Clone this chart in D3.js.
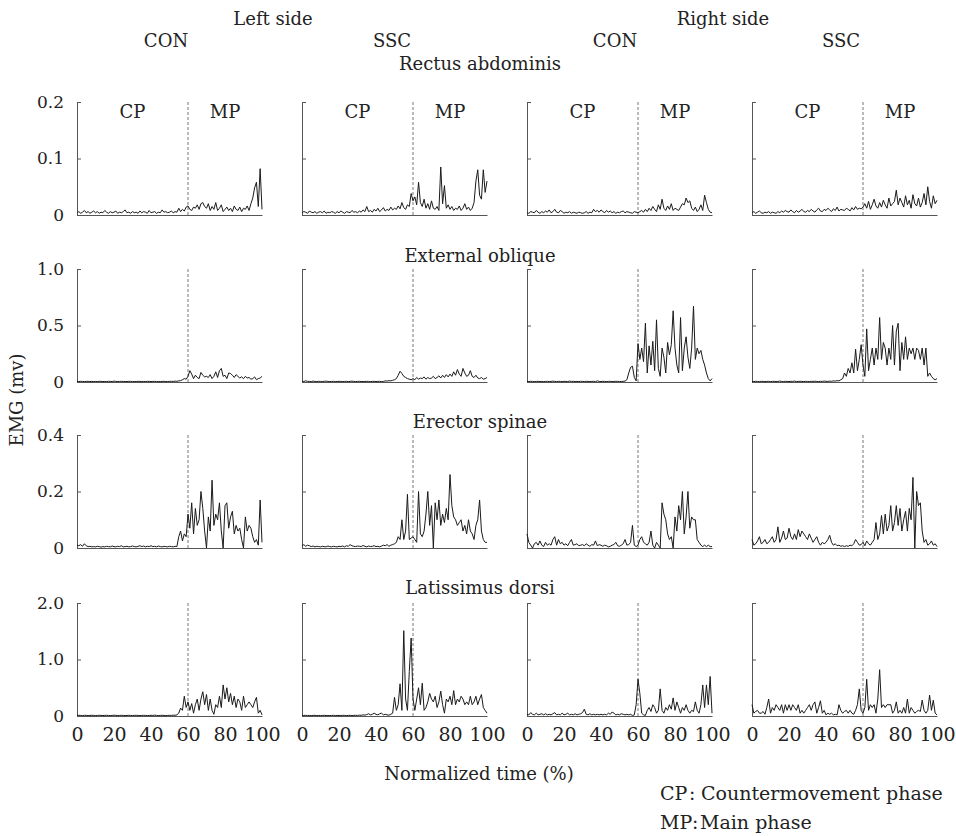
<!DOCTYPE html>
<html>
<head>
<meta charset="utf-8">
<title>EMG of trunk muscles, CON vs SSC</title>
<style>
  body { margin: 0; background: #fff; }
  text { font-family: "DejaVu Serif", serif; fill: #222; }
  .tick text { font-size: 17px; }
  .x_axis .tick text { font-size: 19px; }
  .title { font-size: 18px; text-anchor: middle; }
  .legend { font-size: 19px; }
  .trace { fill: none; stroke: #1a1a1a; stroke-width: 1; }
  .axis path, .axis line { stroke: #555; stroke-width: 1; }
  .phase_line { stroke: #777; stroke-width: 1; stroke-dasharray: 3,2; }
</style>
</head>
<body>
<script src="https://cdn.jsdelivr.net/npm/d3@7"></script>
<script>
// ---- data (normalized time 0..100 %, EMG in mV) ----
var muscles = ["Rectus abdominis", "External oblique", "Erector spinae", "Latissimus dorsi"];
var conditions = ["CON", "SSC", "CON", "SSC"];
var sides = ["Left side", "Right side"];
var yMax = [0.2, 1.0, 0.4, 2.0];
var yTicks = [[0, 0.1, 0.2], [0, 0.5, 1.0], [0, 0.2, 0.4], [0, 1.0, 2.0]];
var yTickLabels = [["0", "0.1", "0.2"], ["0", "0.5", "1.0"], ["0", "0.2", "0.4"], ["0", "1.0", "2.0"]];
var xTicks = [0, 20, 40, 60, 80, 100];
var phaseSplit = 60;
var times = d3.range(0, 101);

var rectusLeftCON = [
  .004,.006,.003,.005,.008,.004,.006,.003,.005,.007,
  .004,.006,.003,.005,.004,.008,.005,.003,.006,.004,
  .005,.007,.003,.005,.004,.006,.009,.004,.005,.003,
  .006,.004,.005,.003,.007,.004,.006,.005,.003,.008,
  .004,.005,.006,.003,.005,.004,.009,.005,.006,.004,
  .005,.007,.004,.006,.005,.012,.006,.010,.007,.014,
  .016,.010,.008,.014,.012,.018,.010,.020,.022,.015,
  .012,.020,.008,.015,.010,.022,.008,.012,.018,.006,
  .010,.014,.008,.012,.006,.016,.010,.008,.014,.006,
  .012,.010,.016,.008,.020,.030,.048,.058,.015,.082,.010];
var rectusLeftSSC = [
  .004,.006,.005,.003,.007,.005,.004,.006,.003,.005,
  .006,.004,.007,.003,.005,.004,.006,.005,.003,.006,
  .004,.007,.005,.003,.006,.005,.004,.008,.005,.006,
  .004,.007,.005,.009,.006,.015,.006,.008,.005,.010,
  .007,.012,.006,.009,.013,.007,.010,.008,.014,.009,
  .012,.010,.016,.011,.022,.013,.010,.018,.015,.038,
  .025,.032,.018,.058,.022,.015,.028,.012,.020,.010,
  .025,.012,.010,.015,.008,.085,.020,.052,.012,.018,
  .010,.015,.008,.012,.010,.016,.008,.012,.020,.010,
  .014,.008,.012,.022,.060,.080,.035,.028,.080,.040,.060];
var rectusRightCON = [
  .004,.003,.006,.005,.004,.008,.005,.003,.006,.004,
  .007,.005,.009,.004,.006,.010,.005,.004,.008,.006,
  .003,.005,.004,.006,.003,.005,.004,.003,.005,.004,
  .003,.004,.006,.003,.005,.004,.010,.006,.008,.005,
  .009,.006,.004,.008,.005,.007,.004,.006,.003,.005,
  .004,.006,.007,.004,.006,.005,.004,.003,.006,.005,
  .004,.006,.008,.005,.010,.006,.012,.008,.015,.010,
  .006,.018,.010,.028,.012,.008,.016,.010,.020,.008,
  .012,.010,.008,.014,.020,.018,.030,.022,.025,.012,
  .008,.014,.006,.010,.018,.008,.035,.022,.010,.005,.004];
var rectusRightSSC = [
  .004,.006,.003,.005,.007,.004,.003,.005,.004,.006,
  .003,.005,.004,.003,.006,.004,.007,.005,.008,.006,
  .005,.009,.006,.004,.008,.005,.007,.010,.006,.005,
  .008,.006,.010,.007,.005,.009,.012,.007,.006,.010,
  .008,.012,.009,.006,.011,.008,.014,.007,.010,.009,
  .008,.012,.010,.007,.013,.009,.015,.010,.012,.011,
  .014,.020,.012,.024,.010,.018,.028,.016,.012,.022,
  .014,.026,.018,.012,.030,.016,.020,.024,.044,.018,
  .030,.022,.014,.034,.018,.026,.012,.036,.020,.016,
  .030,.014,.022,.038,.018,.050,.024,.012,.034,.020,.026];

var obliqueLeftCON = [
  .005,.004,.006,.005,.004,.005,.006,.004,.005,.004,
  .005,.004,.006,.005,.004,.005,.004,.006,.005,.004,
  .008,.005,.004,.005,.006,.004,.005,.004,.005,.006,
  .004,.005,.004,.006,.005,.004,.005,.004,.006,.005,
  .004,.005,.006,.004,.005,.004,.005,.006,.004,.005,
  .005,.006,.005,.008,.006,.010,.012,.020,.030,.025,
  .050,.100,.070,.030,.060,.040,.030,.085,.060,.045,
  .050,.040,.065,.030,.050,.090,.040,.100,.120,.050,
  .060,.030,.080,.075,.060,.040,.065,.050,.035,.045,
  .030,.050,.035,.040,.025,.030,.045,.020,.030,.035,.050];
var obliqueLeftSSC = [
  .006,.005,.010,.006,.005,.004,.008,.005,.004,.006,
  .005,.004,.006,.008,.005,.004,.005,.006,.004,.005,
  .006,.005,.004,.005,.006,.004,.005,.008,.005,.004,
  .005,.006,.004,.005,.004,.006,.005,.004,.005,.006,
  .004,.005,.006,.004,.005,.010,.008,.012,.010,.015,
  .020,.030,.060,.095,.075,.050,.040,.030,.025,.020,
  .030,.020,.040,.025,.035,.030,.045,.025,.040,.030,
  .035,.050,.030,.040,.055,.035,.060,.040,.065,.045,
  .070,.050,.090,.060,.110,.070,.050,.120,.080,.050,
  .060,.100,.050,.040,.060,.035,.030,.040,.025,.030,.040];
var obliqueRightCON = [
  .005,.004,.006,.005,.004,.005,.006,.004,.005,.004,
  .005,.006,.004,.005,.008,.005,.004,.006,.005,.004,
  .006,.005,.004,.008,.005,.006,.004,.005,.004,.006,
  .005,.004,.006,.005,.004,.005,.006,.004,.010,.005,
  .004,.006,.005,.004,.005,.006,.004,.005,.006,.005,
  .005,.004,.006,.008,.020,.080,.130,.140,.040,.010,
  .340,.200,.300,.180,.520,.080,.320,.150,.360,.100,
  .550,.120,.050,.300,.220,.080,.350,.240,.330,.630,
  .300,.150,.080,.570,.100,.300,.400,.220,.120,.300,
  .670,.200,.300,.250,.280,.200,.150,.080,.030,.010,.030];
var obliqueRightSSC = [
  .005,.004,.006,.005,.004,.006,.005,.004,.005,.006,
  .004,.005,.006,.004,.005,.008,.005,.004,.006,.005,
  .004,.006,.005,.008,.004,.005,.006,.005,.004,.006,
  .005,.004,.006,.005,.007,.005,.004,.006,.005,.008,
  .006,.005,.008,.006,.010,.008,.012,.010,.020,.030,
  .080,.050,.120,.080,.170,.080,.290,.100,.200,.330,
  .150,.050,.470,.100,.200,.300,.150,.300,.200,.570,
  .200,.350,.300,.150,.300,.200,.500,.150,.450,.520,
  .100,.350,.200,.400,.200,.300,.250,.300,.200,.300,
  .280,.200,.300,.150,.300,.050,.080,.050,.030,.020,.030];

var erectorLeftCON = [
  .010,.008,.012,.006,.015,.008,.005,.006,.004,.005,
  .004,.006,.005,.003,.005,.004,.006,.005,.004,.007,
  .005,.004,.006,.005,.008,.004,.005,.006,.004,.005,
  .007,.005,.004,.006,.008,.005,.007,.004,.006,.005,
  .008,.005,.006,.004,.007,.005,.004,.006,.005,.004,
  .006,.005,.004,.006,.005,.040,.060,.025,.050,.040,
  .120,.070,.160,.050,.140,.080,.100,.200,.140,.060,
  .000,.110,.060,.240,.080,.120,.100,.160,.060,.000,
  .150,.160,.070,.110,.130,.050,.080,.060,.070,.030,
  .000,.110,.060,.080,.070,.040,.020,.030,.010,.170,.020];
var erectorLeftSSC = [
  .008,.012,.006,.010,.008,.005,.007,.004,.006,.005,
  .004,.006,.005,.004,.007,.005,.004,.006,.005,.004,
  .006,.005,.007,.004,.008,.006,.012,.008,.006,.005,
  .007,.006,.005,.009,.006,.004,.007,.005,.006,.008,
  .005,.006,.004,.007,.010,.008,.012,.006,.010,.012,
  .015,.020,.040,.030,.100,.030,.060,.190,.030,.035,
  .040,.030,.020,.200,.050,.040,.060,.120,.200,.080,
  .150,.000,.160,.100,.170,.080,.120,.090,.140,.100,
  .260,.150,.110,.100,.080,.090,.100,.060,.080,.050,
  .100,.060,.050,.030,.080,.100,.170,.060,.030,.020,.020];
var erectorRightCON = [
  .050,.020,.010,.000,.015,.020,.010,.025,.010,.005,
  .020,.010,.015,.010,.030,.040,.010,.030,.015,.020,
  .010,.015,.008,.020,.030,.010,.012,.015,.008,.010,
  .012,.008,.015,.010,.006,.012,.010,.025,.008,.012,
  .010,.006,.010,.008,.004,.006,.010,.012,.020,.008,
  .006,.010,.015,.030,.010,.012,.020,.080,.010,.005,
  .010,.030,.040,.020,.015,.010,.020,.060,.010,.000,
  .020,.010,.000,.160,.120,.100,.050,.030,.040,.000,
  .110,.060,.150,.100,.200,.050,.110,.200,.070,.110,
  .100,.100,.030,.020,.010,.005,.010,.005,.010,.005,.005];
var erectorRightSSC = [
  .030,.010,.015,.025,.040,.015,.020,.030,.015,.020,
  .030,.040,.020,.030,.075,.020,.035,.060,.030,.035,
  .070,.040,.030,.050,.030,.065,.040,.060,.050,.040,
  .030,.050,.035,.020,.030,.040,.020,.010,.020,.015,
  .020,.030,.045,.020,.010,.015,.008,.010,.006,.008,
  .005,.008,.006,.010,.008,.015,.030,.020,.010,.012,
  .020,.008,.025,.015,.010,.020,.030,.090,.030,.050,
  .115,.050,.120,.060,.080,.150,.060,.090,.150,.080,
  .140,.060,.100,.130,.060,.140,.100,.250,.000,.200,
  .150,.160,.060,.020,.030,.010,.015,.025,.010,.015,.005];

var latissimusLeftCON = [
  .010,.012,.010,.008,.012,.010,.008,.010,.012,.010,
  .008,.010,.012,.010,.008,.010,.012,.010,.008,.010,
  .015,.010,.008,.010,.012,.010,.008,.010,.012,.010,
  .008,.010,.012,.010,.008,.010,.012,.010,.008,.010,
  .012,.010,.015,.010,.008,.010,.012,.010,.008,.010,
  .012,.010,.015,.012,.020,.050,.140,.100,.350,.150,
  .250,.100,.220,.050,.200,.300,.100,.300,.430,.200,
  .380,.100,.300,.100,.030,.200,.150,.350,.150,.550,
  .300,.500,.250,.400,.200,.350,.150,.300,.250,.100,
  .350,.150,.200,.250,.200,.150,.250,.330,.050,.100,.020];
var latissimusLeftSSC = [
  .008,.010,.012,.008,.010,.008,.010,.012,.008,.010,
  .008,.010,.012,.008,.010,.008,.010,.012,.008,.010,
  .010,.008,.012,.010,.008,.010,.012,.008,.010,.012,
  .010,.015,.012,.020,.015,.025,.040,.020,.030,.050,
  .030,.020,.040,.050,.020,.030,.020,.015,.030,.050,
  .330,.100,.200,.570,.100,1.510,.300,.100,.790,1.380,
  .300,.100,.300,.500,.200,.580,.100,.150,.250,.400,
  .300,.250,.350,.150,.250,.440,.200,.050,.300,.250,
  .350,.200,.450,.200,.300,.250,.350,.300,.200,.250,
  .200,.350,.200,.250,.350,.200,.300,.380,.150,.100,.050];
var latissimusRightCON = [
  .030,.020,.060,.030,.020,.050,.020,.030,.040,.020,
  .040,.020,.030,.020,.040,.060,.020,.030,.020,.050,
  .020,.030,.050,.020,.030,.020,.040,.020,.030,.040,
  .060,.120,.030,.020,.040,.020,.030,.020,.030,.020,
  .030,.020,.030,.020,.050,.030,.070,.050,.020,.030,
  .020,.040,.030,.020,.030,.020,.030,.010,.020,.200,
  .650,.400,.050,.020,.010,.100,.150,.080,.200,.150,
  .050,.100,.480,.100,.050,.150,.100,.200,.120,.320,
  .100,.250,.150,.050,.150,.100,.200,.100,.050,.100,
  .080,.250,.100,.050,.200,.550,.150,.550,.200,.700,.050];
var latissimusRightSSC = [
  .200,.050,.080,.100,.050,.050,.080,.030,.150,.300,
  .050,.150,.100,.200,.150,.100,.200,.050,.200,.100,
  .200,.100,.200,.150,.100,.200,.050,.100,.050,.100,
  .150,.200,.100,.200,.250,.050,.150,.270,.050,.100,
  .020,.050,.030,.050,.020,.030,.020,.200,.100,.050,
  .080,.100,.050,.100,.050,.030,.100,.200,.480,.100,
  .050,.150,.650,.100,.200,.150,.200,.050,.300,.820,
  .150,.200,.150,.200,.200,.200,.050,.100,.250,.050,
  .100,.050,.150,.050,.300,.050,.150,.100,.050,.080,
  .100,.080,.280,.100,.050,.100,.370,.100,.280,.050,.020];

// rows = muscles, columns = left CON, left SSC, right CON, right SSC
var panels = [
  [rectusLeftCON, rectusLeftSSC, rectusRightCON, rectusRightSSC],
  [obliqueLeftCON, obliqueLeftSSC, obliqueRightCON, obliqueRightSSC],
  [erectorLeftCON, erectorLeftSSC, erectorRightCON, erectorRightSSC],
  [latissimusLeftCON, latissimusLeftSSC, latissimusRightCON, latissimusRightSSC]
];

// ---- layout ----
var width = 956, height = 836;
var colX = [77, 302, 527, 752];
var rowY = [102, 269, 435, 603];
var panelW = 185, panelH = 113;
var muscleTitleY = [70, 262, 428, 594];

var svg = d3.select("body").append("svg")
  .attr("width", width)
  .attr("height", height);

panels.forEach(function(row, r) {
  var y = d3.scaleLinear()
    .domain([0, yMax[r]])
    .range([rowY[r] + panelH, rowY[r]]);

  row.forEach(function(series, c) {
    var x = d3.scaleLinear()
      .domain([0, 100])
      .range([colX[c], colX[c] + panelW]);

    var g = svg.append("g").attr("class", "panel");

    // y axis, ticks pointing inwards, labels only in first column
    g.append("g")
      .attr("class", "axis")
      .attr("transform", "translate(" + colX[c] + ",0)")
      .call(d3.axisLeft(y)
        .tickValues(yTicks[r])
        .tickSize(-4)
        .tickSizeOuter(-4)
        .tickPadding(13)
        .tickFormat(function(d, i) { return c === 0 ? yTickLabels[r][i] : ""; }));

    // x axis baseline, labels only in bottom row
    var xAxis = d3.axisBottom(x).tickSize(0).tickSizeOuter(0).tickPadding(12);
    if (r === panels.length - 1) {
      xAxis.tickValues(xTicks);
    } else {
      xAxis.tickValues([]);
    }
    g.append("g")
      .attr("class", "axis x_axis")
      .attr("transform", "translate(0," + (rowY[r] + panelH) + ")")
      .call(xAxis);

    // phase boundary
    g.append("line")
      .attr("class", "phase_line")
      .attr("x1", x(phaseSplit)).attr("x2", x(phaseSplit))
      .attr("y1", y(0)).attr("y2", y(yMax[r]));

    // EMG trace
    var line = d3.line()
      .x(function(d, i) { return x(times[i]); })
      .y(function(d) { return y(d); });
    g.append("path")
      .datum(series)
      .attr("class", "trace")
      .attr("d", line);

    // phase labels on the top row
    if (r === 0) {
      g.append("text").attr("class", "title")
        .attr("x", x(30)).attr("y", rowY[r] + 16).text("CP");
      g.append("text").attr("class", "title")
        .attr("x", x(80)).attr("y", rowY[r] + 16).text("MP");
    }
  });

  svg.append("text").attr("class", "title")
    .attr("x", 480).attr("y", muscleTitleY[r])
    .text(muscles[r]);
});

// column headers
svg.append("text").attr("class", "title").attr("x", 273).attr("y", 25).text(sides[0]);
svg.append("text").attr("class", "title").attr("x", 723).attr("y", 25).text(sides[1]);
var headerX = [166, 392, 615, 841];
conditions.forEach(function(cond, i) {
  svg.append("text").attr("class", "title")
    .attr("x", headerX[i]).attr("y", 47).text(cond);
});

// axis titles
svg.append("text").attr("class", "title")
  .attr("transform", "translate(23,400) rotate(-90)")
  .text("EMG (mv)");
svg.append("text").attr("class", "title")
  .attr("x", 479).attr("y", 780)
  .text("Normalized time (%)");

// legend
var legendKeys = ["CP", "MP"];
var legendNames = ["Countermovement phase", "Main phase"];
var legendColonX = [689, 692];
var legendNameX = [701, 700];
legendKeys.forEach(function(key, i) {
  var ly = 800 + i * 29;
  svg.append("text").attr("class", "legend").attr("x", 660).attr("y", ly).text(key);
  svg.append("text").attr("class", "legend").attr("x", legendColonX[i]).attr("y", ly).text(":");
  svg.append("text").attr("class", "legend").attr("x", legendNameX[i]).attr("y", ly).text(legendNames[i]);
});
</script>
</body>
</html>
